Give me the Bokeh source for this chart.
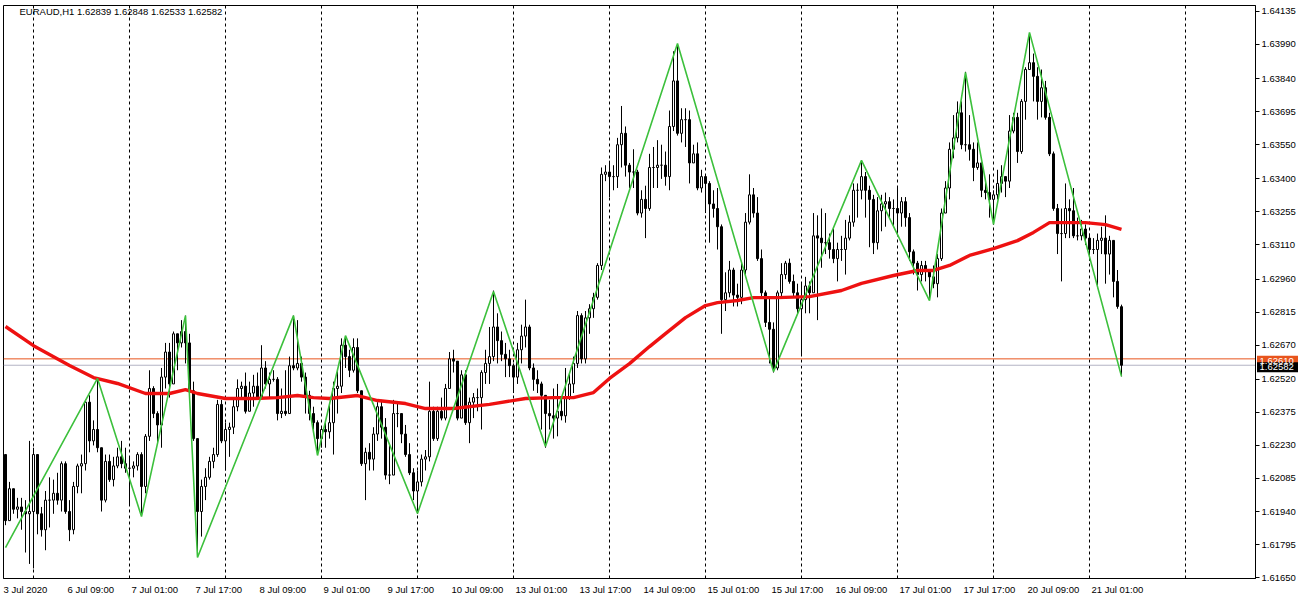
import pandas as pd
from bokeh.plotting import figure
from bokeh.layouts import row
from bokeh.models import (ColumnDataSource, FixedTicker, Span, Label, Range1d,
                          PrintfTickFormatter)
from bokeh.core.properties import value
from bokeh.embed import file_html
from bokeh.resources import INLINE

# ---------------- data ----------------
symbol = "EURAUD,H1"
start_time = "2020-07-03 17:00"
first_open = 1.6219
last_open = 1.62839

close = [
    1.6190, 1.6204, 1.6195, 1.6196, 1.6194, 1.6193, 1.6194, 1.6219, 1.6193, 1.6186,
    1.6199, 1.6199, 1.6202, 1.6199, 1.6215, 1.6194, 1.6186, 1.6205, 1.6214, 1.6215,
    1.6242, 1.6225, 1.6230, 1.6222, 1.6199, 1.6216, 1.6208, 1.6214, 1.6218, 1.6215,
    1.6213, 1.6213, 1.6214, 1.6219, 1.6205, 1.6227, 1.6248, 1.6237, 1.6232, 1.6253,
    1.6264, 1.6250, 1.6272, 1.6268, 1.6273, 1.6268, 1.6247, 1.6226, 1.6194, 1.6205,
    1.6209, 1.6216, 1.6219, 1.6241, 1.6225, 1.6230, 1.6231, 1.6240, 1.6248, 1.6249,
    1.6238, 1.6246, 1.6249, 1.6244, 1.6257, 1.6250, 1.6252, 1.6252, 1.6237, 1.6238,
    1.6237, 1.6258, 1.6257, 1.6259, 1.6253, 1.6245, 1.6237, 1.6233, 1.6226, 1.6230,
    1.6229, 1.6233, 1.6248, 1.6249, 1.6267, 1.6262, 1.6256, 1.6266, 1.6247, 1.6215,
    1.6220, 1.6217, 1.6228, 1.6240, 1.6231, 1.6210, 1.6210, 1.6237, 1.6237, 1.6228,
    1.6219, 1.6211, 1.6203, 1.6207, 1.6217, 1.6218, 1.6238, 1.6226, 1.6238, 1.6235,
    1.6248, 1.6261, 1.6260, 1.6235, 1.6254, 1.6233, 1.6242, 1.6244, 1.6244, 1.6255,
    1.6259, 1.6262, 1.6275, 1.6269, 1.6263, 1.6261, 1.6258, 1.6253, 1.6265, 1.6271,
    1.6275, 1.6257, 1.6252, 1.6250, 1.6245, 1.6237, 1.6236, 1.6235, 1.6238, 1.6236,
    1.6244, 1.6250, 1.6259, 1.6280, 1.6261, 1.6279, 1.6283, 1.6288, 1.6302, 1.6342,
    1.6343, 1.6341, 1.6341, 1.6355, 1.6360, 1.6346, 1.6343, 1.6343, 1.6325, 1.6331,
    1.6327, 1.6345, 1.6345, 1.6346, 1.6346, 1.6341, 1.6363, 1.6383, 1.6360, 1.6366,
    1.6366, 1.6347, 1.6351, 1.6336, 1.6341, 1.6338, 1.6329, 1.6327, 1.6319, 1.6287,
    1.6290, 1.6300, 1.6289, 1.6288, 1.6300, 1.6321, 1.6333, 1.6325, 1.6305, 1.6290,
    1.6277, 1.6274, 1.6257, 1.6290, 1.6298, 1.6303, 1.6295, 1.6290, 1.6283, 1.6287,
    1.6293, 1.6290, 1.6315, 1.6314, 1.6312, 1.6312, 1.6309, 1.6305, 1.6309, 1.6309,
    1.6314, 1.6321, 1.6335, 1.6335, 1.6341, 1.6335, 1.6331, 1.6312, 1.6326, 1.6329,
    1.6330, 1.6327, 1.6327, 1.6325, 1.6330, 1.6323, 1.6308, 1.6303, 1.6298, 1.6302,
    1.6300, 1.6297, 1.6294, 1.6305, 1.6325, 1.6336, 1.6353, 1.6358, 1.6369, 1.6355,
    1.6355, 1.6353, 1.6345, 1.6347, 1.6335, 1.6334, 1.6331, 1.6333, 1.6338, 1.6341,
    1.6339, 1.6361, 1.6367, 1.6352, 1.6374, 1.6388, 1.6391, 1.6385, 1.6374, 1.6380,
    1.6367, 1.6351, 1.6327, 1.6316, 1.6316, 1.6327, 1.6326, 1.6315, 1.6315, 1.6318,
    1.6314, 1.6309, 1.6309, 1.6313, 1.6314, 1.6307, 1.6313, 1.6295, 1.6284, 1.62582,
]

high = [
    1.6219, 1.6207, 1.6202, 1.6200, 1.6200, 1.6199, 1.6225, 1.6222, 1.6212, 1.6196,
    1.6203, 1.6209, 1.6208, 1.6211, 1.6216, 1.6216, 1.6199, 1.6207, 1.6215, 1.6219,
    1.6243, 1.6245, 1.6234, 1.6252, 1.6222, 1.6219, 1.6219, 1.6218, 1.6222, 1.6225,
    1.6222, 1.6218, 1.6216, 1.6220, 1.6220, 1.6228, 1.6256, 1.6249, 1.6238, 1.6257,
    1.6268, 1.6268, 1.6273, 1.6272, 1.6278, 1.6280, 1.6272, 1.6251, 1.6226, 1.6208,
    1.6213, 1.6218, 1.6222, 1.6243, 1.6243, 1.6233, 1.6233, 1.6243, 1.6252, 1.6251,
    1.6255, 1.6251, 1.6254, 1.6255, 1.6267, 1.6260, 1.6255, 1.6256, 1.6253, 1.6248,
    1.6256, 1.6262, 1.6280, 1.6278, 1.6262, 1.6255, 1.6247, 1.6240, 1.6234, 1.6231,
    1.6233, 1.6241, 1.6251, 1.6256, 1.6270, 1.6271, 1.6265, 1.6270, 1.6270, 1.6245,
    1.6222, 1.6224, 1.6231, 1.6242, 1.6243, 1.6235, 1.6224, 1.6243, 1.6242, 1.6235,
    1.6232, 1.6224, 1.6213, 1.6212, 1.6219, 1.6221, 1.6251, 1.6240, 1.6240, 1.6244,
    1.6250, 1.6264, 1.6265, 1.6258, 1.6256, 1.6256, 1.6244, 1.6246, 1.6248, 1.6256,
    1.6265, 1.6275, 1.6291, 1.6281, 1.6273, 1.6268, 1.6265, 1.6259, 1.6268, 1.6276,
    1.6287, 1.6276, 1.6259, 1.6256, 1.6251, 1.6244, 1.6243, 1.6248, 1.6250, 1.6244,
    1.6257, 1.6255, 1.6262, 1.6282, 1.6281, 1.6282, 1.6285, 1.6290, 1.6303, 1.6345,
    1.6346, 1.6348, 1.6346, 1.6358, 1.6372, 1.6363, 1.6347, 1.6353, 1.6344, 1.6335,
    1.6337, 1.6351, 1.6354, 1.6357, 1.6355, 1.6352, 1.6370, 1.6396, 1.6399, 1.6371,
    1.6371, 1.6370, 1.6355, 1.6356, 1.6344, 1.6341, 1.6339, 1.6335, 1.6336, 1.6320,
    1.6299, 1.6304, 1.6301, 1.6294, 1.6304, 1.6325, 1.6342, 1.6336, 1.6332, 1.6309,
    1.6291, 1.6288, 1.6277, 1.6291, 1.6303, 1.6304, 1.6305, 1.6298, 1.6294, 1.6294,
    1.6297, 1.6295, 1.6325, 1.6324, 1.6327, 1.6325, 1.6316, 1.6318, 1.6312, 1.6315,
    1.6322, 1.6324, 1.6338, 1.6338, 1.6348, 1.6343, 1.6337, 1.6333, 1.6332, 1.6333,
    1.6334, 1.6332, 1.6331, 1.6336, 1.6332, 1.6332, 1.6325, 1.6309, 1.6304, 1.6304,
    1.6304, 1.6300, 1.6302, 1.6307, 1.6327, 1.6339, 1.6356, 1.6368, 1.6374, 1.6374,
    1.6387, 1.6368, 1.6356, 1.6356, 1.6347, 1.6339, 1.6342, 1.6335, 1.6344, 1.6346,
    1.6341, 1.6368, 1.6369, 1.6369, 1.6375, 1.6389, 1.6404, 1.6395, 1.6389, 1.6388,
    1.6383, 1.6369, 1.6352, 1.6329, 1.6327, 1.6338, 1.6331, 1.6336, 1.6323, 1.6322,
    1.6320, 1.6316, 1.6314, 1.6316, 1.6319, 1.6324, 1.6315, 1.6313, 1.6300, 1.62848,
]

low = [
    1.6188, 1.6199, 1.6193, 1.6191, 1.6186, 1.6176, 1.6171, 1.6169, 1.6184, 1.6183,
    1.6177, 1.6187, 1.6193, 1.6197, 1.6194, 1.6193, 1.6181, 1.6184, 1.6202, 1.6202,
    1.6212, 1.6220, 1.6223, 1.6220, 1.6194, 1.6198, 1.6207, 1.6205, 1.6213, 1.6213,
    1.6211, 1.6197, 1.6209, 1.6212, 1.6192, 1.6202, 1.6225, 1.6235, 1.6224, 1.6222,
    1.6248, 1.6244, 1.6252, 1.6256, 1.6266, 1.6259, 1.6244, 1.6225, 1.6174, 1.6183,
    1.6199, 1.6208, 1.6213, 1.6218, 1.6224, 1.6212, 1.6218, 1.6228, 1.6238, 1.6243,
    1.6237, 1.6241, 1.6240, 1.6243, 1.6246, 1.6248, 1.6244, 1.6251, 1.6234, 1.6235,
    1.6236, 1.6246, 1.6256, 1.6256, 1.6251, 1.6237, 1.6234, 1.6230, 1.6219, 1.6222,
    1.6222, 1.6226, 1.6219, 1.6237, 1.6246, 1.6257, 1.6253, 1.6255, 1.6246, 1.6214,
    1.6199, 1.6212, 1.6212, 1.6225, 1.6226, 1.6208, 1.6206, 1.6221, 1.6231, 1.6224,
    1.6218, 1.6210, 1.6199, 1.6193, 1.6205, 1.6212, 1.6216, 1.6225, 1.6225, 1.6234,
    1.6234, 1.6248, 1.6255, 1.6234, 1.6243, 1.6232, 1.6224, 1.6235, 1.6238, 1.6230,
    1.6250, 1.6250, 1.6260, 1.6259, 1.6260, 1.6253, 1.6253, 1.6246, 1.6250, 1.6259,
    1.6266, 1.6256, 1.6247, 1.6246, 1.6230, 1.6222, 1.6230, 1.6226, 1.6227, 1.6234,
    1.6233, 1.6243, 1.6246, 1.6257, 1.6259, 1.6259, 1.6272, 1.6279, 1.6287, 1.6300,
    1.6339, 1.6332, 1.6335, 1.6336, 1.6345, 1.6341, 1.6336, 1.6336, 1.6324, 1.6323,
    1.6314, 1.6326, 1.6336, 1.6336, 1.6340, 1.6337, 1.6335, 1.6361, 1.6359, 1.6356,
    1.6354, 1.6338, 1.6347, 1.6335, 1.6334, 1.6325, 1.6312, 1.6323, 1.6309, 1.6272,
    1.6282, 1.6288, 1.6284, 1.6284, 1.6285, 1.6298, 1.6320, 1.6323, 1.6304, 1.6288,
    1.6275, 1.6259, 1.6255, 1.6256, 1.6288, 1.6296, 1.6294, 1.6288, 1.6281, 1.6263,
    1.6281, 1.6281, 1.6290, 1.6278, 1.6301, 1.6307, 1.6305, 1.6303, 1.6295, 1.6304,
    1.6298, 1.6313, 1.6319, 1.6323, 1.6331, 1.6323, 1.6310, 1.6307, 1.6309, 1.6317,
    1.6319, 1.6323, 1.6319, 1.6316, 1.6319, 1.6319, 1.6304, 1.6298, 1.6291, 1.6295,
    1.6295, 1.6287, 1.6292, 1.6288, 1.6304, 1.6325, 1.6331, 1.6349, 1.6356, 1.6353,
    1.6352, 1.6348, 1.6339, 1.6344, 1.6332, 1.6331, 1.6323, 1.6320, 1.6331, 1.6334,
    1.6332, 1.6336, 1.6360, 1.6347, 1.6351, 1.6366, 1.6388, 1.6374, 1.6366, 1.6367,
    1.6366, 1.6350, 1.6326, 1.6307, 1.6295, 1.6314, 1.6314, 1.6314, 1.6313, 1.6313,
    1.6311, 1.6304, 1.6307, 1.6292, 1.6307, 1.6294, 1.6298, 1.6288, 1.6283, 1.62533,
]

# moving average (red), sampled at bar indices
ma_idx = [0, 7, 16, 22, 28, 35, 41, 45, 48, 55, 62, 68, 73, 77, 81, 88, 93, 100, 105, 112,
          121, 130, 137, 142, 147, 151, 156, 161, 165, 170, 175, 178, 183, 187, 193, 201,
          209, 214, 222, 228, 232, 236, 241, 247, 253, 257, 261, 265, 270, 275, 279]
ma_val = [1.62752, 1.62668, 1.62581, 1.62528, 1.62502, 1.62458, 1.62458, 1.62475, 1.62458,
          1.62436, 1.62436, 1.62440, 1.62449, 1.62440, 1.62436, 1.62449, 1.62427, 1.62414,
          1.62392, 1.62392, 1.62410, 1.62436, 1.62440, 1.62440, 1.62462, 1.62524, 1.62589,
          1.62664, 1.62721, 1.62791, 1.62844, 1.62857, 1.62866, 1.62879, 1.62879, 1.62883,
          1.62910, 1.62941, 1.62976, 1.62998, 1.62998, 1.63020, 1.63064, 1.63094, 1.63129,
          1.63165, 1.63208, 1.63208, 1.63208, 1.63199, 1.63178]

# ZigZag (green) pivots
zz_idx = [0, 23, 34, 45, 48, 72, 78, 85, 103, 122, 135, 168, 192, 214, 231, 240, 247, 256, 279]
zz_val = [1.61782, 1.62524, 1.61918, 1.62800, 1.61738, 1.62800, 1.62186, 1.62712, 1.61931,
          1.62906, 1.62225, 1.63994, 1.62554, 1.63481, 1.62866, 1.63867, 1.63200, 1.64043,
          1.62533]

price_ticks = [1.61650, 1.61795, 1.61940, 1.62085, 1.62230, 1.62375, 1.62520, 1.62670,
               1.62815, 1.62960, 1.63110, 1.63255, 1.63400, 1.63550, 1.63695, 1.63840,
               1.63990, 1.64135]
hline_level = 1.62610
bid_price = 1.62582

# ---------------- derived ----------------
n = len(close)
opens = [first_open] + close[:-1]
opens[-1] = last_open

times = []
t = pd.Timestamp(start_time)
while len(times) < 330:
    if t.weekday() < 5:
        times.append(t)
    t += pd.Timedelta(hours=1)

idx = list(range(n))
bull = [c >= o for o, c in zip(opens, close)]
src_bull = ColumnDataSource(dict(
    x=[i for i in idx if bull[i]],
    top=[max(opens[i], close[i]) for i in idx if bull[i]],
    bot=[min(opens[i], close[i]) for i in idx if bull[i]]))
src_bear = ColumnDataSource(dict(
    x=[i for i in idx if not bull[i]],
    top=[max(opens[i], close[i]) for i in idx if not bull[i]],
    bot=[min(opens[i], close[i]) for i in idx if not bull[i]]))
src_wick = ColumnDataSource(dict(
    x=idx,
    hi=[max(high[i], opens[i], close[i]) for i in idx],
    lo=[min(low[i], opens[i], close[i]) for i in idx]))

FONT = "Liberation Sans"
FS = "9.5px"
PX_PER_BAR = 4.0
ORANGE = "#e8541c"

p = figure(x_range=Range1d(-0.5, 312.5), y_range=Range1d(1.61646, 1.64161),
           frame_width=1252, frame_height=573,
           output_backend="svg", toolbar_location=None,
           y_axis_location="right",
           min_border_left=0, min_border_top=2, min_border_right=4, min_border_bottom=0,
           background_fill_color="white", border_fill_color="white")
p.styles = {"margin-left": "3px", "margin-top": "3px"}
p.outline_line_color = "black"
p.outline_line_width = 1
p.xgrid.visible = False
p.ygrid.visible = False

# day separators
for i, tm in enumerate(times):
    if tm.hour == 0 and i < 313:
        p.add_layout(Span(location=i, dimension="height", line_color="black",
                          line_width=1, line_dash="3 3", level="underlay"))

p.add_layout(Span(location=hline_level, dimension="width", line_color=ORANGE,
                  line_width=1, level="underlay"))
p.add_layout(Span(location=bid_price, dimension="width", line_color="#b4b4c4",
                  line_width=1, level="underlay"))

# candles
p.segment(x0="x", y0="lo", x1="x", y1="hi", source=src_wick, line_color="black", line_width=1)
p.vbar(x="x", width=0.5, top="top", bottom="bot", source=src_bull,
       fill_color="white", line_color="black", line_width=1)
p.vbar(x="x", width=0.5, top="top", bottom="bot", source=src_bear,
       fill_color="black", line_color="black", line_width=1)

# indicators
p.line(ma_idx, ma_val, line_color="#ee1111", line_width=3.4)
p.line(zz_idx, zz_val, line_color="#3cc03c", line_width=1.6)

# axes
ya = p.yaxis[0]
ya.ticker = FixedTicker(ticks=price_ticks)
ya.formatter = PrintfTickFormatter(format="%.5f")
ya.minor_tick_line_color = None
ya.major_tick_in = 0
ya.major_tick_out = 4
ya.major_label_standoff = 2
ya.axis_line_color = "black"
ya.major_label_text_font = FONT
ya.major_label_text_font_size = FS
ya.major_label_text_color = "black"

# time labels every 16 bars; MT4 left-aligns them at the bar,
# Bokeh centres axis labels, so the tick sits at the label's centre
CHAR_W = {" ": 2.64, ":": 2.64, "J": 4.75, "u": 5.28, "l": 2.1}
lab_bars = list(range(0, n, 16))
lab_text = []
for i in lab_bars:
    tm = times[i]
    if i == 0:
        lab_text.append(f"{tm.day} {tm.strftime('%b %Y')}")
    else:
        lab_text.append(f"{tm.day} {tm.strftime('%b %H:%M')}")
tick_pos = []
for i, s in zip(lab_bars, lab_text):
    w = sum(CHAR_W.get(ch, 5.28) for ch in s)
    tick_pos.append(i + (w / 2 - 2) / PX_PER_BAR)
xa = p.xaxis[0]
xa.ticker = FixedTicker(ticks=tick_pos)
xa.major_label_overrides = {tp: s for tp, s in zip(tick_pos, lab_text)}
xa.minor_tick_line_color = None
xa.major_tick_line_color = None
xa.major_tick_in = 0
xa.major_tick_out = 0
xa.major_label_standoff = 5
xa.major_label_text_font = FONT
xa.major_label_text_font_size = FS
xa.major_label_text_color = "black"
xa.axis_line_color = "black"

# title inside chart
p.add_layout(Label(x=3.5, y=price_ticks[-1],
                   text=f"{symbol}  {opens[-1]:.5f} {high[-1]:.5f} {low[-1]:.5f} {close[-1]:.5f}",
                   text_font=FONT, text_font_size=FS, text_color="black",
                   text_baseline="middle", text_align="left"))

# price tags over the price scale: a small transparent overlay figure sharing the y range
pt = figure(x_range=Range1d(0, 44), y_range=p.y_range,
            frame_width=44, frame_height=573,
            output_backend="svg", toolbar_location=None,
            x_axis_location=None, y_axis_location=None,
            min_border_left=0, min_border_right=0, min_border_top=0, min_border_bottom=0,
            background_fill_color=None, border_fill_color=None, outline_line_color=None)
pt.grid.visible = False
pt.styles = {"position": "absolute", "left": "1256px", "top": "5px"}
tag_src = ColumnDataSource(dict(
    y=[hline_level, bid_price],
    txt=[f"{hline_level:.5f}", f"{bid_price:.5f}"],
    fill=[ORANGE, "black"]))
pt.rect(x=21, y="y", width=41, height=10, width_units="screen", height_units="screen",
        fill_color="fill", line_color=None, source=tag_src)
pt.text(x=3, y="y", text="txt", text_color="white", text_baseline="middle",
        text_align="left", text_font=value(FONT), text_font_size=value(FS),
        source=tag_src)

layout = row(p, pt)
open("out.html", "w").write(file_html(layout, INLINE))
